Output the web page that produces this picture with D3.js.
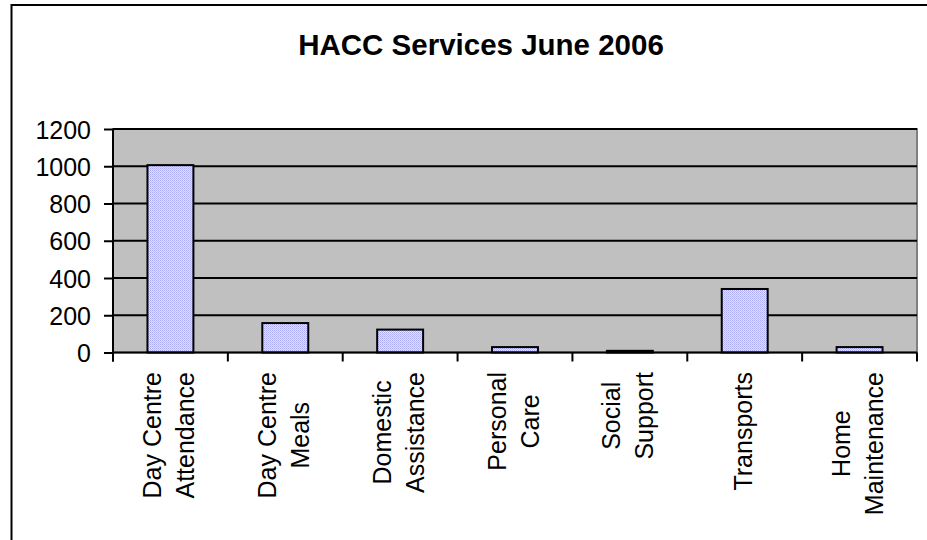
<!DOCTYPE html>
<html>
<head>
<meta charset="utf-8">
<script src="https://cdn.jsdelivr.net/npm/d3@7"></script>
<style>
  html, body { margin: 0; padding: 0; background: #fff; }
  svg { display: block; font-family: Arial, "Liberation Sans", sans-serif; }
</style>
</head>
<body>
<svg id="chart" width="927" height="540"></svg>
<script>
// HACC service counts for June 2006
const categories = [
  ["Day Centre", "Attendance"],
  ["Day Centre", "Meals"],
  ["Domestic", "Assistance"],
  ["Personal", "Care"],
  ["Social", "Support"],
  ["Transports"],
  ["Home", "Maintenance"]
];
const values = [1006, 158, 123, 29, 9, 341, 29];
const yTicks = [0, 200, 400, 600, 800, 1000, 1200];
const title = "HACC Services June 2006";

const svg = d3.select("#chart");

// outer chart frame (runs off the right and bottom edges)
svg.append("rect")
  .attr("x", 11.5).attr("y", 5)
  .attr("width", 960).attr("height", 600)
  .attr("fill", "#fff").attr("stroke", "#000").attr("stroke-width", 2);

// dotted lavender fill for the bars
const defs = svg.append("defs");
const pat = defs.append("pattern")
  .attr("id", "dots").attr("patternUnits", "userSpaceOnUse")
  .attr("width", 2).attr("height", 2);
pat.append("rect").attr("width", 2).attr("height", 2).attr("fill", "#e2e2fc");
pat.append("rect").attr("x", 0).attr("y", 0).attr("width", 1).attr("height", 1).attr("fill", "#a9a9f4");
pat.append("rect").attr("x", 1).attr("y", 1).attr("width", 1).attr("height", 1).attr("fill", "#bcbcf6");

const plot = { left: 113, right: 917, top: 129, bottom: 352.5 };

const x = d3.scaleBand()
  .domain(d3.range(categories.length))
  .range([plot.left, plot.right])
  .paddingInner(0.6).paddingOuter(0.3);

const y = d3.scaleLinear()
  .domain([0, 1200])
  .range([plot.bottom, plot.top]);

// title
svg.append("text")
  .attr("x", 481).attr("y", 54.5)
  .attr("text-anchor", "middle")
  .attr("font-size", 29.5).attr("font-weight", "bold")
  .text(title);

// plot background
svg.append("rect")
  .attr("x", plot.left).attr("y", plot.top)
  .attr("width", plot.right - plot.left).attr("height", plot.bottom - plot.top)
  .attr("fill", "#c0c0c0").attr("stroke", "#808080").attr("stroke-width", 2);

// horizontal gridlines
svg.append("g").selectAll("line")
  .data(yTicks.filter(d => d > 0))
  .join("line")
  .attr("x1", plot.left).attr("x2", plot.right)
  .attr("y1", d => y(d)).attr("y2", d => y(d))
  .attr("stroke", "#000").attr("stroke-width", 2);

// bars
svg.append("g").selectAll("rect")
  .data(values)
  .join("rect")
  .attr("x", (d, i) => x(i))
  .attr("y", d => y(d))
  .attr("width", x.bandwidth())
  .attr("height", d => y(0) - y(d))
  .attr("fill", "url(#dots)")
  .attr("stroke", "#000").attr("stroke-width", 2);

// y axis
const yAxis = d3.axisLeft(y).tickValues(yTicks).tickSize(9).tickPadding(13).tickFormat(d3.format("d"));
const gy = svg.append("g").attr("transform", `translate(${plot.left},0)`).call(yAxis);
gy.select(".domain").attr("stroke", "#000").attr("stroke-width", 2)
  .attr("d", `M0,${plot.top}V${plot.bottom + 9}`);
gy.selectAll(".tick line").attr("stroke", "#000").attr("stroke-width", 2);
gy.selectAll(".tick text").attr("font-size", 25).attr("font-family", "Arial, 'Liberation Sans', sans-serif").attr("fill", "#000").attr("dy", "0.36em");

// x axis: baseline and ticks at category boundaries
const step = x.step();
const bounds = d3.range(categories.length + 1).map(i => plot.left + i * step);
svg.append("line")
  .attr("x1", plot.left).attr("x2", plot.right)
  .attr("y1", plot.bottom).attr("y2", plot.bottom)
  .attr("stroke", "#000").attr("stroke-width", 2);
svg.append("g").selectAll("line")
  .data(bounds)
  .join("line")
  .attr("x1", d => d).attr("x2", d => d)
  .attr("y1", plot.bottom).attr("y2", plot.bottom + 9)
  .attr("stroke", "#000").attr("stroke-width", 2);

// rotated category labels, block end aligned near the axis
const labelTop = 372;
const lineGap = 33;
categories.forEach((lines, i) => {
  const cx = x(i) + x.bandwidth() / 2;
  const g = svg.append("g");
  const texts = lines.map((t, j) => g.append("text")
    .attr("font-size", 25).attr("text-anchor", "middle").text(t));
  const maxLen = d3.max(texts, t => t.node().getComputedTextLength());
  const yc = labelTop + maxLen / 2;
  texts.forEach((t, j) => {
    const bx = cx + 7 + (j - (lines.length - 1) / 2) * lineGap;
    t.attr("transform", `translate(${bx},${yc}) rotate(-90)`);
  });
});
</script>
</body>
</html>
